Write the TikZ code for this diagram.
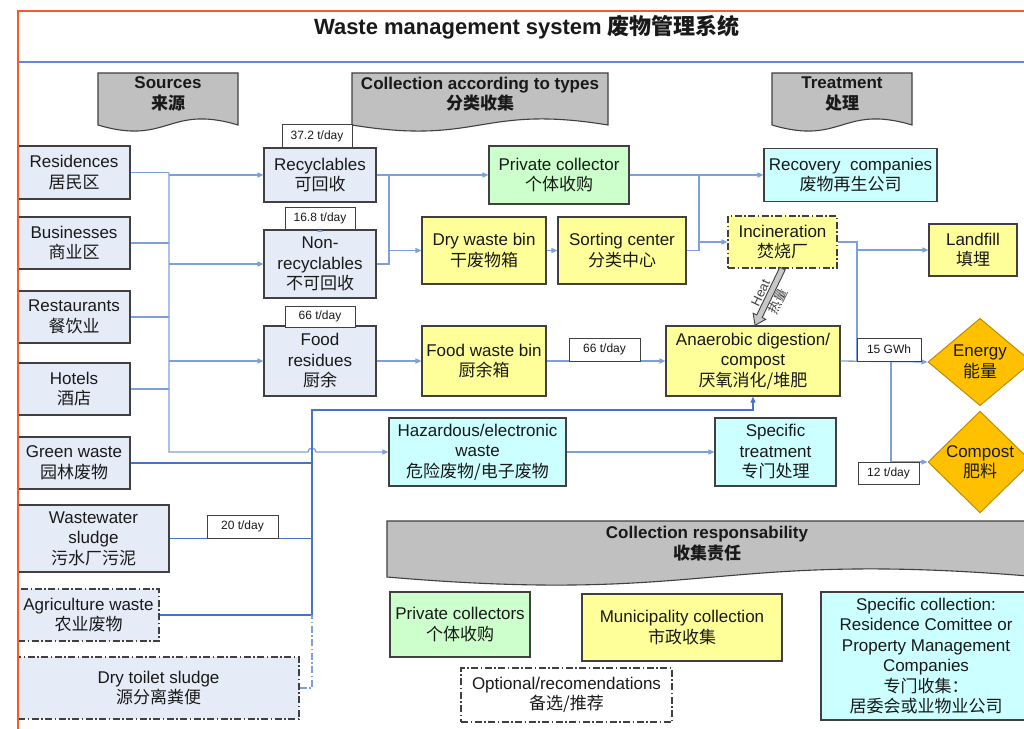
\documentclass[tikz,border=0pt]{standalone}
\usepackage{fontspec}
\setmainfont{Liberation Sans}
\newfontfamily\zhfont{Noto Sans CJK SC}
\usetikzlibrary{shapes.geometric,arrows.meta}
\newcommand\zhtxt[1]{{\zhfont #1}}
\newcommand\bodyfont{\fontsize{17}{20.5}\selectfont}
\newcommand\tagfont{\fontsize{12}{14}\selectfont}
\newcommand\heatfont{\fontsize{13}{15}\selectfont}
\definecolor{frameorange}{RGB}{242,92,40}
\definecolor{sepblue}{RGB}{90,140,215}
\definecolor{edgegray}{RGB}{64,64,64}
\definecolor{inkc}{RGB}{25,25,25}
\definecolor{srcfill}{RGB}{229,236,248}
\definecolor{ylwfill}{RGB}{255,255,153}
\definecolor{grnfill}{RGB}{204,255,204}
\definecolor{cyfill}{RGB}{204,255,255}
\definecolor{diafill}{RGB}{255,192,0}
\definecolor{diaedge}{RGB}{190,140,0}
\definecolor{hdrgray}{RGB}{192,192,192}
\definecolor{heatgray}{RGB}{200,200,200}
\definecolor{linkblue}{RGB}{125,160,220}
\definecolor{linkdark}{RGB}{70,115,200}
\begin{document}
\begin{tikzpicture}[x=1pt,y=-1pt,
  box/.style={draw=edgegray, line width=1.1pt, inner sep=0pt, align=center, text=inkc, font=\bodyfont},
  wh/.style 2 args={minimum width=#1pt, minimum height=#2pt},
  srcbox/.style={box, fill=srcfill},
  ybox/.style={box, fill=ylwfill},
  gbox/.style={box, fill=grnfill},
  cbox/.style={box, fill=cyfill},
  optline/.style={dash pattern=on 7pt off 2.5pt on 1.5pt off 2.5pt},
  tagbox/.style={draw=edgegray, line width=0.9pt, fill=white, inner sep=0pt, font=\tagfont, text=inkc},
  dia/.style={diamond, draw=diaedge, fill=diafill, line width=1pt, inner sep=0pt, align=center, font=\bodyfont, text=inkc},
  link/.style={draw=linkblue, line width=1.3pt},
  linkd/.style={draw=linkdark, line width=1.3pt},
  arrowed/.style={-{Triangle[length=6pt,width=5pt]}},
  hdr/.style={fill=hdrgray, draw=edgegray, line width=1.1pt},
  hdrtext/.style={font=\bodyfont\bfseries, align=center, text=inkc},
  heattext/.style={font=\heatfont, text=edgegray, inner sep=0pt, rotate=64.2}
]
\clip (0,0) rectangle (1024,728);
\fill[white] (0,0) rectangle (1024,728);

% title strip
\draw[sepblue, line width=1.5pt] (18,62) -- (1024,62);
\node[font=\fontsize{22}{26}\selectfont\bfseries, text=inkc] (title) at (527,27)
  {Waste management system \zhtxt{废物管理系统}};

% column headers (document shapes)
\filldraw[hdr] (98,73) -- (238,73) -- (238,125) .. controls (168,104) and (168,146) .. (98,125) -- cycle;
\filldraw[hdr] (352,73) -- (608,73) -- (608,125) .. controls (480,104) and (480,146) .. (352,125) -- cycle;
\filldraw[hdr] (772,73) -- (912,73) -- (912,125) .. controls (842,104) and (842,146) .. (772,125) -- cycle;
\node[hdrtext] (hsrc) at (168,94) {Sources\\\zhtxt{来源}};
\node[hdrtext] (hcol) at (480,94) {Collection according to types\\\zhtxt{分类收集}};
\node[hdrtext] (htrt) at (842,94) {Treatment\\\zhtxt{处理}};

% sources
\node[srcbox, wh={112}{53}] (res)  at (74,172.5) {Residences\\\zhtxt{居民区}};
\node[srcbox, wh={112}{52}] (biz)  at (74,243)   {Businesses\\\zhtxt{商业区}};
\node[srcbox, wh={112}{52}] (rest) at (74,317)   {Restaurants\\\zhtxt{餐饮业}};
\node[srcbox, wh={112}{52}] (hot)  at (74,389)   {Hotels\\\zhtxt{酒店}};
\node[srcbox, wh={112}{52}] (grn)  at (74,463)   {Green waste\\\zhtxt{园林废物}};
\node[srcbox, wh={151}{67}] (wws)  at (93.5,538.5) {Wastewater\\sludge\\\zhtxt{污水厂污泥}};
\node[srcbox, optline, wh={141}{52}] (agri) at (88.5,615) {Agriculture waste\\\zhtxt{农业废物}};
\node[srcbox, optline, wh={281}{62}] (dts)  at (158.5,688) {Dry toilet sludge\\\zhtxt{源分离粪便}};

% collection by type
\node[srcbox, wh={112}{54}] (rec)     at (320,175) {Recyclables\\\zhtxt{可回收}};
\node[srcbox, wh={112}{68}] (nonrec)  at (320,264) {Non-\\recyclables\\\zhtxt{不可回收}};
\node[srcbox, wh={112}{70}] (foodres) at (320,361) {Food\\residues\\\zhtxt{厨余}};
\node[gbox, wh={140}{58}] (priv)    at (559,175)   {Private collector\\\zhtxt{个体收购}};
\node[ybox, wh={124}{67}] (dry)     at (484,250.5) {Dry waste bin\\\zhtxt{干废物箱}};
\node[ybox, wh={128}{67}] (sort)    at (622,250.5) {Sorting center\\\zhtxt{分类中心}};
\node[ybox, wh={124}{70}] (foodbin) at (484,361)   {Food waste bin\\\zhtxt{厨余箱}};
\node[cbox, wh={177}{68}] (haz)     at (477.5,452) {Hazardous/electronic\\waste\\\zhtxt{危险废物/电子废物}};

% treatment
\node[cbox, wh={173}{53}] (recov) at (850.5,175) {Recovery~~companies\\\zhtxt{废物再生公司}};
\node[ybox, optline, wh={109}{52}] (incin) at (782.5,242) {Incineration\\\zhtxt{焚烧厂}};
\node[ybox, wh={88}{52}]  (land)  at (973,250) {Landfill\\\zhtxt{填埋}};
\node[ybox, wh={174}{70}] (anaer) at (753,361) {Anaerobic digestion/\\compost\\\zhtxt{厌氧消化/堆肥}};
\node[cbox, wh={121}{68}] (spec)  at (775.5,452) {Specific\\treatment\\\zhtxt{专门处理}};
\node[dia, minimum width=104pt, minimum height=84pt] (energy)  at (980,362) {Energy\\\zhtxt{能量}};
\node[dia, minimum width=104pt, minimum height=88pt] (compost) at (980,462) {Compost\\\zhtxt{肥料}};

% heat transfer from incineration to digestion
\begin{scope}[shift={(incin.south)}, rotate=-115.8]
  \filldraw[fill=heatgray, draw=edgegray, line width=0.9pt]
    (0,3) -- (53,3) -- (53,7) -- (63,0) -- (53,-7) -- (53,-3) -- (0,-3) -- cycle;
\end{scope}
\node[heattext] (heaten) at (760.5,293) {Heat};
\node[heattext] (heatzh) at (778,301.5) {\zhtxt{热量}};

% junction columns
\coordinate (busx) at (169,0);
\coordinate (jx) at (389,0);
\coordinate (kx) at (699,0);
\coordinate (mx) at (857,0);
\coordinate (nx) at (891,0);
\coordinate (px) at (312,0);
\coordinate (hop) at (308,452);
\coordinate (ptop) at (312,410);

% sources to the collection bus
\foreach \n in {res,biz,rest,hot} \draw[link] (\n.east) -- (\n.east -| busx);
\draw[link, arrowed] (busx |- res.east) -- (busx |- haz.west) -- (hop)
  arc[start angle=180, end angle=0, radius=4pt] -- (haz.west);
\draw[link, arrowed] (busx |- rec.west) -- (rec.west);
\draw[link, arrowed] (busx |- nonrec.west) -- (nonrec.west);
\draw[link, arrowed] (busx |- foodres.west) -- (foodres.west);
\draw[link, arrowed] (nonrec.north) -- ++(0,-3.5);

% recyclables and residual waste
\draw[link, arrowed] (rec.east) -- (priv.west);
\draw[link] (nonrec.east) -- (jx |- nonrec.east) -- (jx |- rec.east);
\draw[link, arrowed] (jx |- dry.west) -- (dry.west);
\draw[link, arrowed] (dry) -- (sort);
\draw[link] (sort.east) -- (kx |- sort.east) -- (kx |- priv.east);
\draw[link, arrowed] (kx |- incin.west) -- (incin.west);
\draw[link, arrowed] (priv.east) -- (recov.west);
\draw[link] (incin.east) -- (mx |- incin.east) -- (mx |- anaer.east);
\draw[link, arrowed] (mx |- land.west) -- (land.west);

% organic stream
\draw[link, arrowed] (foodres) -- (foodbin);
\draw[link, arrowed] (foodbin) -- (anaer);
\draw[link, arrowed] (anaer.east) -- (energy.west);
\draw[link, arrowed] (nx |- anaer.east) -- (nx |- compost.west) -- (compost.west);
\draw[link, arrowed] (haz) -- (spec);

% green waste, sludge and agriculture to digestion
\draw[linkd] (grn.east) -- (px |- grn.east);
\draw[linkd] (wws.east) -- (px |- wws.east);
\draw[linkd] (agri.east) -- (px |- agri.east);
\draw[linkd, arrowed] (px |- agri.east) -- (ptop) -- (anaer.south |- ptop) -- (anaer.south);
\draw[link, optline, line width=1.1pt] (dts.east) -- (px |- dts.east) -- (px |- agri.east);

% quantity tags
\node[tagbox, wh={70}{23}] (t372) at (317,136)   {37.2 t/day};
\node[tagbox, wh={70}{22}] (t168) at (320,218)   {16.8 t/day};
\node[tagbox, wh={70}{21}] (t66a) at (320,316.5) {66 t/day};
\node[tagbox, wh={71}{23}] (t66b) at (604.5,349.5) {66 t/day};
\node[tagbox, wh={64}{23}] (t15)  at (889,349.5) {15 GWh};
\node[tagbox, wh={61}{22}] (t12)  at (888.5,473) {12 t/day};
\node[tagbox, wh={71}{23}] (t20)  at (242.5,526.5) {20 t/day};

% collection responsibility legend
\filldraw[hdr] (387,521) -- (1040,521) -- (1040,577) .. controls (713.5,549) and (713.5,605) .. (387,577) -- cycle;
\node[hdrtext] (hresp) at (707,543.5) {Collection responsability\\\zhtxt{收集责任}};
\node[gbox, wh={140}{65}] (privc) at (460,624.5) {Private collectors\\\zhtxt{个体收购}};
\node[ybox, wh={200}{67}] (muni)  at (682,627.5) {Municipality collection\\\zhtxt{市政收集}};
\node[cbox, wh={210}{128}] (specc) at (926,656) {Specific collection:\\Residence Comittee or\\Property Management\\Companies\\\zhtxt{专门收集：}\\\zhtxt{居委会或业物业公司}};
\node[box, optline, fill=white, wh={211}{54}] (opt) at (566.5,695) {Optional/recomendations\\\zhtxt{备选/推荐}};

% outer frame
\draw[frameorange, line width=2pt] (18,740) -- (18,11) -- (1040,11);
\end{tikzpicture}
\end{document}
